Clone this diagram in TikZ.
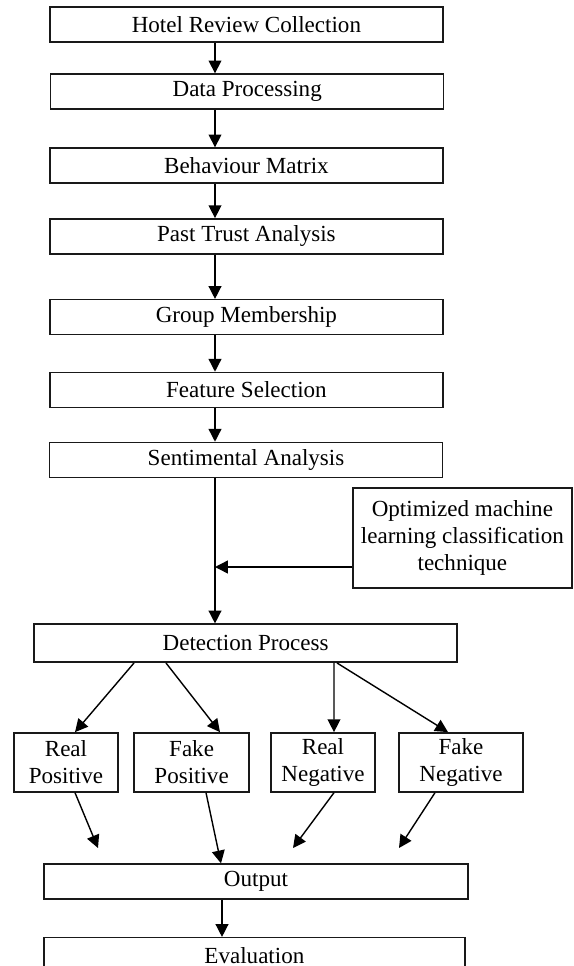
\documentclass[tikz,border=0pt]{standalone}
\usepackage{fontspec}
\setmainfont{Liberation Serif}
\usetikzlibrary{positioning, arrows.meta}

\begin{document}
\begin{tikzpicture}
\tikzstyle{sqr}=[rectangle, draw=black!90, line width=1.1pt, inner sep=0pt, minimum height=8.75mm, font=\fontsize{16.4}{19.2}\selectfont]
\tikzstyle{wide}=[sqr, minimum width=98.25mm]
\tikzstyle{leaf}=[sqr, align=center, minimum height=14.75mm]
\tikzstyle{connect}=[-{Triangle[length=3.2mm, width=3.2mm]}, line width=1pt]
\useasboundingbox (0,0) rectangle (14.35,-24.15);
% 1. Nodes
%%%%%%%%%%
\node[wide] (hotel) at (6.16,-0.61) {Hotel Review Collection};
\node[wide] (dp)    at (6.18,-2.29) {Data Processing};
\node[wide] (bm)    at (6.16,-4.14) {Behaviour Matrix};
\node[wide] (pta)   at (6.16,-5.91) {Past Trust Analysis};
\node[wide] (gm)    at (6.16,-7.93) {Group Membership};
\node[wide] (fs)    at (6.16,-9.75) {Feature Selection};
\node[wide] (sa)    at (6.15,-11.5) {Sentimental Analysis};

\node[sqr, align=center, minimum width=54.75mm, minimum height=25mm] (opt) at (11.56,-13.45)
     {Optimized machine\\ learning classification\\ technique};

\node[sqr, minimum width=105.8mm, minimum height=9.5mm] (det) at (6.14,-16.08) {Detection Process};

\node[leaf, minimum width=26mm]   (rp) at (1.65,-19.06)  {Real\\ Positive};
\node[leaf, minimum width=28.75mm] (fp) at (4.79,-19.06)  {Fake\\ Positive};
\node[leaf, minimum width=26mm]   (rn) at (8.075,-19.06) {Real\\ Negative};
\node[leaf, minimum width=31mm]   (fn) at (11.525,-19.06) {Fake\\ Negative};

\node[sqr, minimum width=106mm] (out)  at (6.4,-22.04)  {Output};
\node[sqr, minimum width=105.25mm] (eval) at (6.36,-23.88) {Evaluation};

\coordinate (axis)  at (5.375,0);
\coordinate (axisb) at (5.55,0);
\coordinate (join)  at (5.375,-14.175);
\coordinate (o1) at (2.45,-21.2);
\coordinate (o3) at (7.325,-21.2);
\coordinate (o4) at (9.975,-21.2);
% 2. Arrows
%%%%%%%%%%%
\path (hotel.south -| axis) edge [connect] (dp.north -| axis)
      (dp.south -| axis)    edge [connect] (bm.north -| axis)
      (bm.south -| axis)    edge [connect] (pta.north -| axis)
      (pta.south -| axis)   edge [connect] (gm.north -| axis)
      (gm.south -| axis)    edge [connect] (fs.north -| axis)
      (fs.south -| axis)    edge [connect] (sa.north -| axis)
      (sa.south -| axis)    edge [connect] (det.north -| axis)
      (opt.west |- join)    edge [connect] (join);

\path ([xshift=-27.9mm]det.south) edge [connect] ([xshift=2.25mm]rp.north)
      ([xshift=-19.9mm]det.south) edge [connect] ([xshift=7.1mm]fp.north)
      ([xshift=22.1mm]det.south)  edge [connect] ([xshift=2.75mm]rn.north)
      ([xshift=22.85mm]det.south) edge [connect] ([xshift=-3.25mm]fn.north);

\path ([xshift=2.25mm]rp.south)  edge [connect] (o1)
      ([xshift=3.6mm]fp.south)   edge [connect] ([xshift=-8.75mm]out.north)
      ([xshift=2.75mm]rn.south)  edge [connect] (o3)
      ([xshift=-6.5mm]fn.south)  edge [connect] (o4)
      (out.south -| axisb)       edge [connect] (eval.north -| axisb);

\end{tikzpicture}
\end{document}
